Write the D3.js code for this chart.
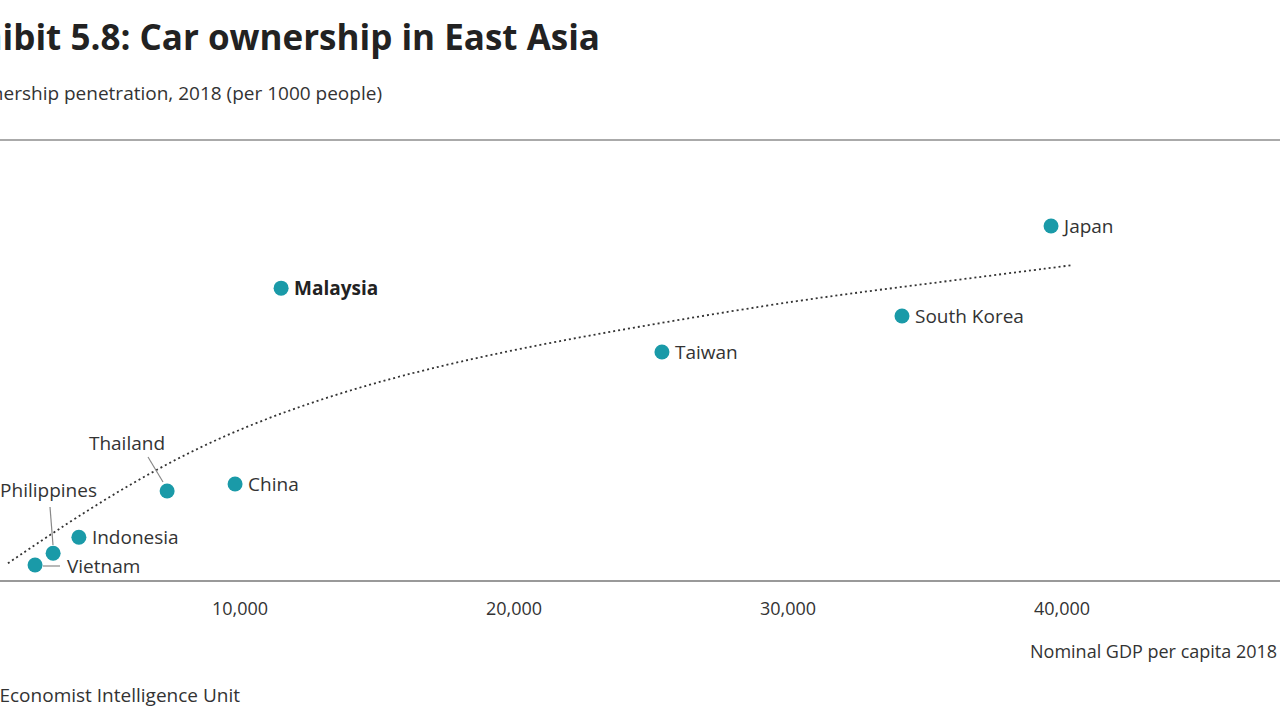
<!DOCTYPE html>
<html><head><meta charset="utf-8">
<script src="https://cdn.jsdelivr.net/npm/d3@7"></script>
<style>body{margin:0;background:#fff;overflow:hidden}text{font-family:"Open Sans",Lato,sans-serif;fill:#333}</style>
</head><body>
<script>
// values
const countries = ["Japan","South Korea","Taiwan","Malaysia","China","Thailand","Indonesia","Philippines","Vietnam"];
const gdp = [39600,34160,25400,11500,9820,7340,4120,3180,2520];
const cars = [600,448,387,495,164,152,74,47,27];
const trendGdp = [1530,4890,8540,12190,15840,20220,25400,30440,34160,40400];
const trendCars = [30,135,230,297,348,394,437,475,497,534];
const xTicks = [10000,20000,30000,40000];

const svg = d3.select("body").append("svg").attr("width",1280).attr("height",720);
const x = d3.scaleLinear().domain([0,10000]).range([-34,240]);
const y = d3.scaleLinear().domain([0,600]).range([581,226]);

svg.append("text").attr("x",600).attr("y",50).attr("text-anchor","end")
  .style("font-size","35px").style("font-weight","bold").style("fill","#222")
  .text("Exhibit 5.8: Car ownership in East Asia");
svg.append("text").attr("x",382).attr("y",100).attr("text-anchor","end")
  .style("font-size","19px").text("Car ownership penetration, 2018 (per 1000 people)");
svg.append("line").attr("x1",0).attr("x2",1280).attr("y1",140).attr("y2",140)
  .attr("stroke","#aaa").attr("stroke-width",2);

// x axis
svg.append("line").attr("x1",0).attr("x2",1280).attr("y1",581).attr("y2",581)
  .attr("stroke","#999").attr("stroke-width",2);
svg.selectAll(".tick").data(xTicks).enter().append("text")
  .attr("x",d=>x(d)).attr("y",615).attr("text-anchor","middle")
  .style("font-size","18px").text(d3.format(","));
svg.append("text").attr("x",1030).attr("y",658).style("font-size","18px")
  .text("Nominal GDP per capita 2018 (US$)");
svg.append("text").attr("x",240).attr("y",702).attr("text-anchor","end")
  .style("font-size","19px").text("Source: The Economist Intelligence Unit");

// trend line
svg.append("path").datum(d3.zip(trendGdp,trendCars))
  .attr("d",d3.line().x(d=>x(d[0])).y(d=>y(d[1])).curve(d3.curveBasis))
  .attr("fill","none").attr("stroke","#333").attr("stroke-width",1.8).attr("stroke-dasharray","2,3");

// leader lines
const leaders = [["Thailand",148,457,163,482],["Philippines",50,507,53,545],["Vietnam",43,566,60,566]];
svg.selectAll(".lead").data(leaders).enter().append("line")
  .attr("x1",d=>d[1]).attr("y1",d=>d[2]).attr("x2",d=>d[3]).attr("y2",d=>d[4])
  .attr("stroke","#888").attr("stroke-width",1.2);

const data = countries.map((c,i)=>({c,g:gdp[i],v:cars[i]}));
svg.selectAll("circle").data(data).enter().append("circle")
  .attr("cx",d=>x(d.g)).attr("cy",d=>y(d.v)).attr("r",7.5).attr("fill","#1a9aa8");

const labelPos = {Thailand:[127,450,"middle"],Philippines:[97,497,"end"],Vietnam:[67,573,"start"]};
svg.selectAll(".lab").data(data).enter().append("text")
  .attr("x",d=>labelPos[d.c]?labelPos[d.c][0]:x(d.g)+13)
  .attr("y",d=>labelPos[d.c]?labelPos[d.c][1]:y(d.v)+7)
  .attr("text-anchor",d=>labelPos[d.c]?labelPos[d.c][2]:"start")
  .style("font-size","19px").style("font-weight",d=>d.c==="Malaysia"?"bold":"normal")
  .style("fill",d=>d.c==="Malaysia"?"#222":"#333")
  .text(d=>d.c);
</script>
</body></html>
